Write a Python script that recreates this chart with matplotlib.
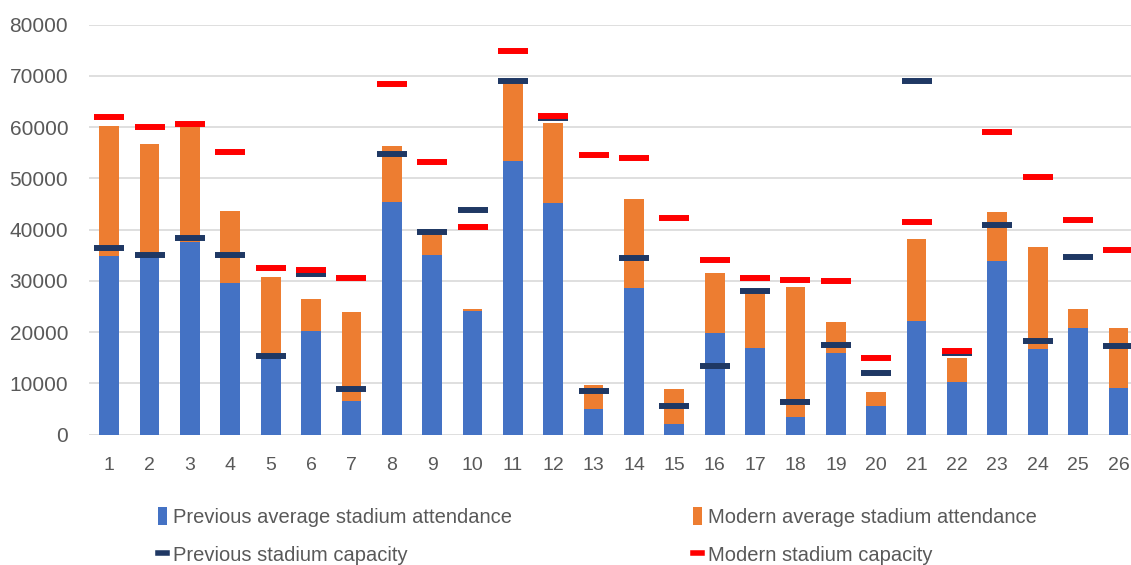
#!/usr/bin/env python3
import numpy as np
import matplotlib
matplotlib.use('Agg')
import matplotlib.pyplot as plt
from matplotlib.patches import Patch
from matplotlib.lines import Line2D

plt.rcParams['font.family'] = ['Liberation Sans', 'DejaVu Sans']

clubs = [str(i) for i in range(1, 27)]

# blue part of each bar
prev_attendance = [34800, 34600, 37600, 29600, 14800, 20200, 6600, 45500, 35100, 24100,
                   53500, 45200, 5000, 28600, 2100, 19900, 17000, 3400, 16000, 5600,
                   22100, 10200, 33800, 16700, 20800, 9200]
# orange part stacked on top (bar top = modern attendance)
modern_attendance = [60300, 56700, 60200, 43700, 30800, 26500, 23900, 56400, 39200, 24600,
                     68800, 60900, 9700, 46000, 8900, 31500, 27600, 28900, 22000, 8400,
                     38200, 15000, 43400, 36600, 24600, 20800]
prev_capacity = [36400, 35100, 38400, 35100, 15400, 31400, 8900, 54800, 39600, 43800,
                 69100, 61700, 8500, 34500, 5600, 13400, 28000, 6300, 17600, 12100,
                 69100, 15900, 40900, 18300, 34700, 17300]
modern_capacity = [62000, 60000, 60700, 55200, 32500, 32200, 30600, 68500, 53200, 40600,
                   74900, 62200, 54500, 53900, 42200, 34100, 30600, 30200, 29900, 15000,
                   41600, 16300, 59100, 50300, 41900, 36000]

blue = '#4472C4'
orange = '#ED7D31'
navy = '#1F3864'
red = '#FF0000'
grey = '#595959'

x = np.arange(1, len(clubs) + 1)
prev_att = np.array(prev_attendance)
top_part = np.array(modern_attendance) - prev_att

fig = plt.figure(figsize=(11.31, 5.65), dpi=100)
ax = fig.add_axes([0.0787, 0.2306, 0.928, 0.7257])

ax.bar(x, prev_att, width=0.49, color=blue, zorder=2)
ax.bar(x, top_part, width=0.49, bottom=prev_att, color=orange, zorder=2)
ax.plot(x, prev_capacity, ls='none', marker='_', ms=21, mew=4.3, color=navy, zorder=3)
ax.plot(x, modern_capacity, ls='none', marker='_', ms=21, mew=4.3, color=red, zorder=4)

ax.set_xlim(0.5, 26.5)
ax.set_ylim(0, 80000)
ax.set_yticks(np.arange(0, 80001, 10000))
ax.set_xticks(x)
ax.set_xticklabels(clubs)
ax.grid(axis='y', color='#d9d9d9', lw=1.2, zorder=0)
for s in ax.spines.values():
    s.set_visible(False)
ax.tick_params(axis='both', length=0, labelsize=14, colors=grey)
ax.tick_params(axis='y', labelsize=15, pad=15)
ax.tick_params(axis='x', pad=16)

handles = [
    Patch(facecolor=blue, edgecolor='none'),
    Line2D([], [], color=navy, lw=4),
    Patch(facecolor=orange, edgecolor='none'),
    Line2D([], [], color=red, lw=4),
]
labels = [
    'Previous average stadium attendance',
    'Previous stadium capacity',
    'Modern average stadium attendance',
    'Modern stadium capacity',
]
leg = fig.legend(handles, labels, ncol=2, loc='upper left',
                 bbox_to_anchor=(0.14, 0.103), frameon=False,
                 fontsize=14.5, handlelength=0.45, handleheight=1.0,
                 handletextpad=0.3, columnspacing=8.95, labelspacing=0.9,
                 borderaxespad=0, borderpad=0)
for t in leg.get_texts():
    t.set_color(grey)

fig.savefig('out.png', dpi=100)
